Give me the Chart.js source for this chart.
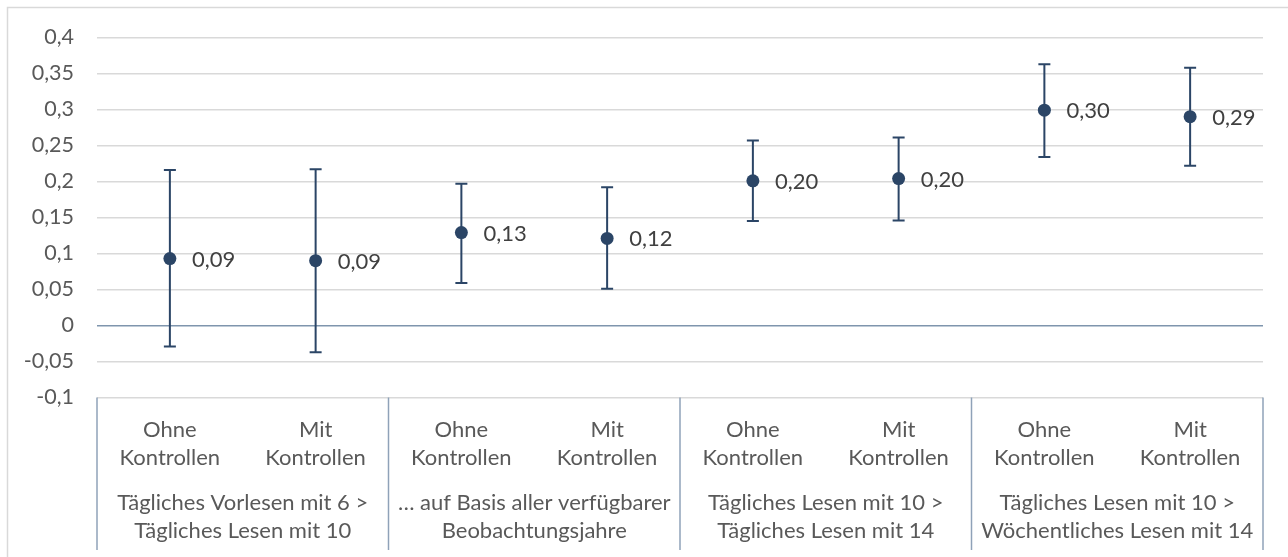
<!DOCTYPE html>
<html lang="de">
<head>
<meta charset="UTF-8">
<title>Effekte mit Konfidenzintervallen</title>
<script src="https://cdn.jsdelivr.net/npm/chart.js"></script>
<style>
html, body { margin: 0; padding: 0; background: #ffffff; }
#wrap { width: 1288px; height: 557px; position: relative; }
</style>
</head>
<body>
<div id="wrap"><canvas id="chart" width="1288" height="557"></canvas></div>
<script>
// inner categories and the groups they belong to
const categories = [
    ["Ohne", "Kontrollen"], ["Mit", "Kontrollen"],
    ["Ohne", "Kontrollen"], ["Mit", "Kontrollen"],
    ["Ohne", "Kontrollen"], ["Mit", "Kontrollen"],
    ["Ohne", "Kontrollen"], ["Mit", "Kontrollen"]
];
const groups = [
    ["Tägliches Vorlesen mit 6 >", "Tägliches Lesen mit 10"],
    ["… auf Basis aller verfügbarer", "Beobachtungsjahre"],
    ["Tägliches Lesen mit 10 >", "Tägliches Lesen mit 14"],
    ["Tägliches Lesen mit 10 >", "Wöchentliches Lesen mit 14"]
];
const groupSize = 2;

// estimates and confidence bounds
const estimates = [0.093, 0.090, 0.129, 0.121, 0.201, 0.204, 0.299, 0.290];
const upper     = [0.216, 0.217, 0.197, 0.192, 0.257, 0.261, 0.363, 0.358];
const lower     = [-0.029, -0.037, 0.059, 0.051, 0.145, 0.146, 0.234, 0.222];

const yMin = -0.1, yMax = 0.4, yStep = 0.05;

const FONT = "Lato";
const navy = '#2b4566';
const sepColor = '#8fa2b8';

function fmt(v, digits) {
    if (digits !== undefined) return v.toFixed(digits).replace('.', ',');
    return String(Number(v.toFixed(2))).replace('.', ',');
}

const frame = {
    id: 'frame',
    beforeDraw(chart) {
        const ctx = chart.ctx;
        ctx.save();
        ctx.strokeStyle = '#d9d9d9';
        ctx.lineWidth = 1.5;
        ctx.strokeRect(7.5, 7.5, 1300, 600);
        ctx.restore();
    }
};

const errorBars = {
    id: 'errorBars',
    beforeDatasetsDraw(chart) {
        const x = chart.scales.x, y = chart.scales.y, ctx = chart.ctx;
        ctx.save();
        ctx.strokeStyle = navy;
        ctx.lineWidth = 2;
        estimates.forEach((v, i) => {
            const px = x.getPixelForValue(i);
            const top = y.getPixelForValue(upper[i]);
            const bot = y.getPixelForValue(lower[i]);
            ctx.beginPath();
            ctx.moveTo(px, top); ctx.lineTo(px, bot);
            ctx.moveTo(px - 6, top); ctx.lineTo(px + 6, top);
            ctx.moveTo(px - 6, bot); ctx.lineTo(px + 6, bot);
            ctx.stroke();
        });
        ctx.restore();
    },
    afterDatasetsDraw(chart) {
        const x = chart.scales.x, y = chart.scales.y, ctx = chart.ctx;
        ctx.save();
        ctx.fillStyle = '#404040';
        ctx.font = '22px ' + FONT;
        ctx.textAlign = 'left';
        ctx.textBaseline = 'middle';
        estimates.forEach((v, i) => {
            ctx.fillText(fmt(v, 2), x.getPixelForValue(i) + 22, y.getPixelForValue(v) + 1);
        });
        ctx.restore();
    }
};

const groupAxis = {
    id: 'groupAxis',
    afterDraw(chart) {
        const x = chart.scales.x, ctx = chart.ctx;
        const top = chart.chartArea.bottom;
        const bottom = 550;
        const half = (x.getPixelForValue(1) - x.getPixelForValue(0)) / 2;
        ctx.save();
        ctx.strokeStyle = sepColor;
        ctx.lineWidth = 1.5;
        for (let g = 0; g <= groups.length; g++) {
            const idx = g * groupSize;
            const px = idx < categories.length ? x.getPixelForValue(idx) - half : x.getPixelForValue(idx - 1) + half;
            ctx.beginPath();
            ctx.moveTo(px, top); ctx.lineTo(px, bottom);
            ctx.stroke();
        }
        ctx.fillStyle = '#595959';
        ctx.font = '22px ' + FONT;
        ctx.textAlign = 'center';
        ctx.textBaseline = 'middle';
        groups.forEach((lines, g) => {
            const a = x.getPixelForValue(g * groupSize);
            const b = x.getPixelForValue(g * groupSize + groupSize - 1);
            const cx = (a + b) / 2;
            lines.forEach((t, k) => ctx.fillText(t, cx, 503 + k * 28));
        });
        ctx.restore();
    }
};

new Chart(document.getElementById('chart'), {
    type: 'line',
    data: {
        labels: categories,
        datasets: [{
            data: estimates,
            showLine: false,
            pointRadius: 6.5,
            pointHoverRadius: 6.5,
            pointBackgroundColor: navy,
            pointBorderColor: navy,
            pointBorderWidth: 0
        }]
    },
    options: {
        responsive: false,
        animation: false,
        layout: { padding: { top: 37.5, right: 25, left: 0, bottom: 0 } },
        plugins: {
            legend: { display: false },
            tooltip: { enabled: false }
        },
        scales: {
            x: {
                offset: true,
                grid: { display: false, drawTicks: false },
                border: { display: false },
                ticks: {
                    color: '#595959',
                    font: { family: FONT, size: 22, lineHeight: 1.27 },
                    padding: 18,
                    maxRotation: 0,
                    autoSkip: false
                },
                afterFit(scale) { scale.height = 159.5; }
            },
            y: {
                min: yMin,
                max: yMax,
                grid: {
                    drawTicks: false,
                    lineWidth: 1.5,
                    color: ctx => Math.abs(ctx.tick.value) < 1e-9 ? '#7f95ad' : '#d9d9d9'
                },
                border: { display: false },
                ticks: {
                    stepSize: yStep,
                    color: '#595959',
                    font: { family: FONT, size: 21.5 },
                    padding: 23,
                    callback: v => fmt(v)
                },
                afterFit(scale) { scale.width = 97; }
            }
        }
    },
    plugins: [frame, errorBars, groupAxis]
});
</script>
</body>
</html>
